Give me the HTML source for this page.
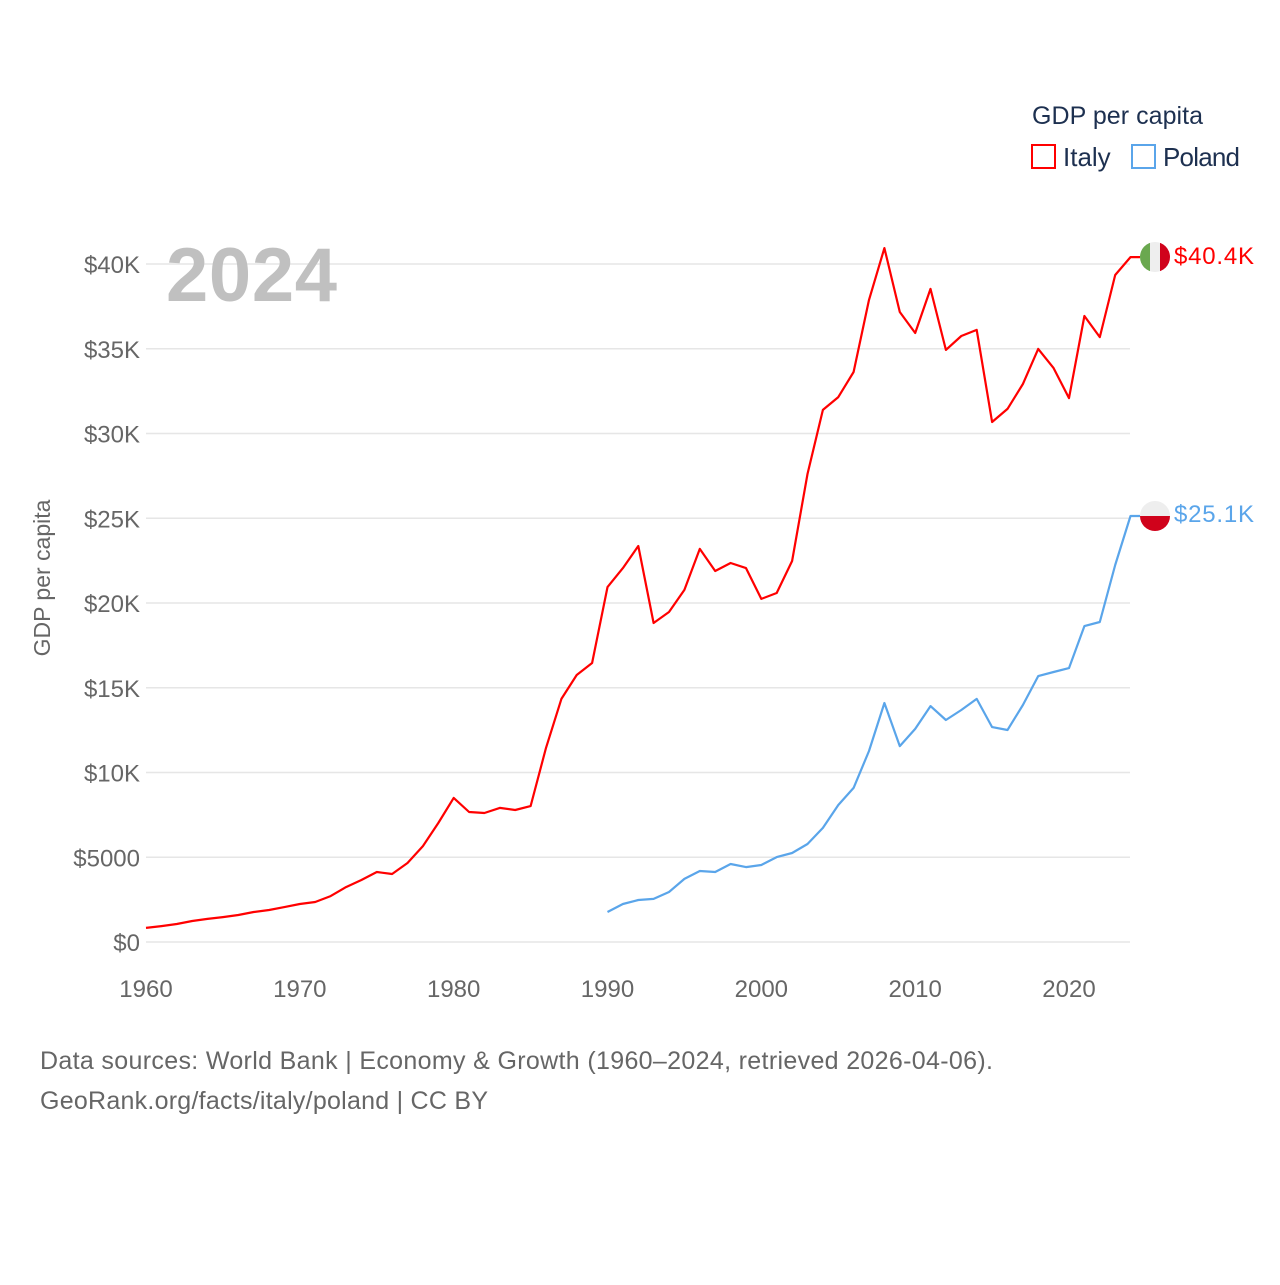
<!DOCTYPE html>
<html><head><meta charset="utf-8"><style>
body{margin:0;background:#fff;font-family:"Liberation Sans",sans-serif;}
svg text{font-family:"Liberation Sans",sans-serif;}
</style></head><body>
<svg width="1280" height="1280" viewBox="0 0 1280 1280" xmlns="http://www.w3.org/2000/svg">
<g id="grid"></g>
<g id="yticks"></g>
<g id="xticks"></g>
<text x="166" y="301" font-size="76" font-weight="bold" fill="#c0c0c0" textLength="171">2024</text>
<text transform="translate(50,578) rotate(-90)" text-anchor="middle" font-size="23" fill="#666">GDP per capita</text>
<g id="series"></g>
<g>
<text x="1032" y="124" font-size="25" fill="#1d3050" textLength="171">GDP per capita</text>
<g><rect x="1032" y="145" width="23" height="23" fill="none" stroke="#f00" stroke-width="2"/><text x="1063" y="166" font-size="26" fill="#1d3050">Italy</text></g>
<g><rect x="1132" y="145" width="23" height="23" fill="none" stroke="#5aa5ea" stroke-width="2"/><text x="1163" y="166" font-size="26" fill="#1d3050" textLength="77">Poland</text></g>
</g>
<g>
<clipPath id="ci"><circle cx="1155" cy="257" r="15"/></clipPath>
<g clip-path="url(#ci)"><rect x="1140" y="242" width="10" height="30" fill="#6aa84f"/><rect x="1150" y="242" width="10" height="30" fill="#eee"/><rect x="1160" y="242" width="10" height="30" fill="#d0021b"/></g></g>
<g>
<clipPath id="cp"><circle cx="1155" cy="516" r="15"/></clipPath>
<g clip-path="url(#cp)"><rect x="1140" y="501" width="30" height="15" fill="#eee"/><rect x="1140" y="516" width="30" height="15" fill="#d0021b"/></g></g>
<text x="1174" y="264" font-size="24" fill="#f00" textLength="80">$40.4K</text>
<text x="1174" y="522" font-size="24" fill="#5aa5ea" textLength="80">$25.1K</text>
<text x="40" y="1069" font-size="25" fill="#666" textLength="953">Data sources: World Bank | Economy &amp; Growth (1960–2024, retrieved 2026-04-06).</text>
<text x="40" y="1109" font-size="25" fill="#666" textLength="448">GeoRank.org/facts/italy/poland | CC BY</text>
</svg>
<script>
const italyStart=1960;
const italyValues=[0.83,0.94,1.06,1.24,1.36,1.47,1.59,1.77,1.89,2.06,2.24,2.36,2.71,3.24,3.66,4.13,4.01,4.66,5.66,7.02,8.50,7.67,7.61,7.91,7.79,8.02,11.45,14.34,15.75,16.46,20.94,22.06,23.36,18.82,19.47,20.77,23.19,21.89,22.36,22.06,20.24,20.59,22.48,27.61,31.39,32.15,33.63,37.88,40.94,37.17,35.93,38.53,34.93,35.75,36.11,30.68,31.45,32.92,34.99,33.86,32.09,36.93,35.69,39.35,40.41];
const polandStart=1990;
const polandValues=[1.77,2.24,2.48,2.54,2.95,3.72,4.19,4.13,4.60,4.42,4.54,5.01,5.25,5.78,6.73,8.08,9.09,11.27,14.10,11.56,12.57,13.92,13.10,13.69,14.34,12.68,12.51,13.98,15.69,15.93,16.16,18.64,18.88,22.24,25.13];
const yTicks=[0,5,10,15,20,25,30,35,40];
const yTickLabels=["$0","$5000","$10K","$15K","$20K","$25K","$30K","$35K","$40K"];
const xTicks=[1960,1970,1980,1990,2000,2010,2020];
const NS="http://www.w3.org/2000/svg";
const xs=y=>146+(y-1960)*(1069-146)/60;
const ys=v=>942-v*(942-264)/40;
function mk(t,a,p){const e=document.createElementNS(NS,t);for(const k in a)e.setAttribute(k,a[k]);p.appendChild(e);return e;}
const grid=document.getElementById('grid'),yt=document.getElementById('yticks'),xt=document.getElementById('xticks'),ser=document.getElementById('series');
yTicks.forEach((v,i)=>{
 const l=mk('line',{x1:146,x2:1130,y1:ys(v),y2:ys(v),stroke:'#e6e6e6','stroke-width':1.5},grid);
 
 
 const t=mk('text',{x:140,y:ys(v)+9,'text-anchor':'end','font-size':24,fill:'#666'},yt);
 t.textContent=yTickLabels[i];
 
 
});
xTicks.forEach(y=>{
 const t=mk('text',{x:xs(y),y:997,'text-anchor':'middle','font-size':24,fill:'#666'},xt);
 t.textContent=y;
 
 
});
function line(start,vals,color,name){
 let d=vals.map((v,i)=>(i?'L':'M')+xs(start+i).toFixed(1)+','+ys(v).toFixed(1)).join(' ');
 d+=' H1140';
 const p=mk('path',{d:d,fill:'none',stroke:color,'stroke-width':2.2,'stroke-linejoin':'round'},ser);
 
 
}
line(italyStart,italyValues,'#ff0000','italy-line');
line(polandStart,polandValues,'#5aa5ea','poland-line');
</script>
</body></html>
